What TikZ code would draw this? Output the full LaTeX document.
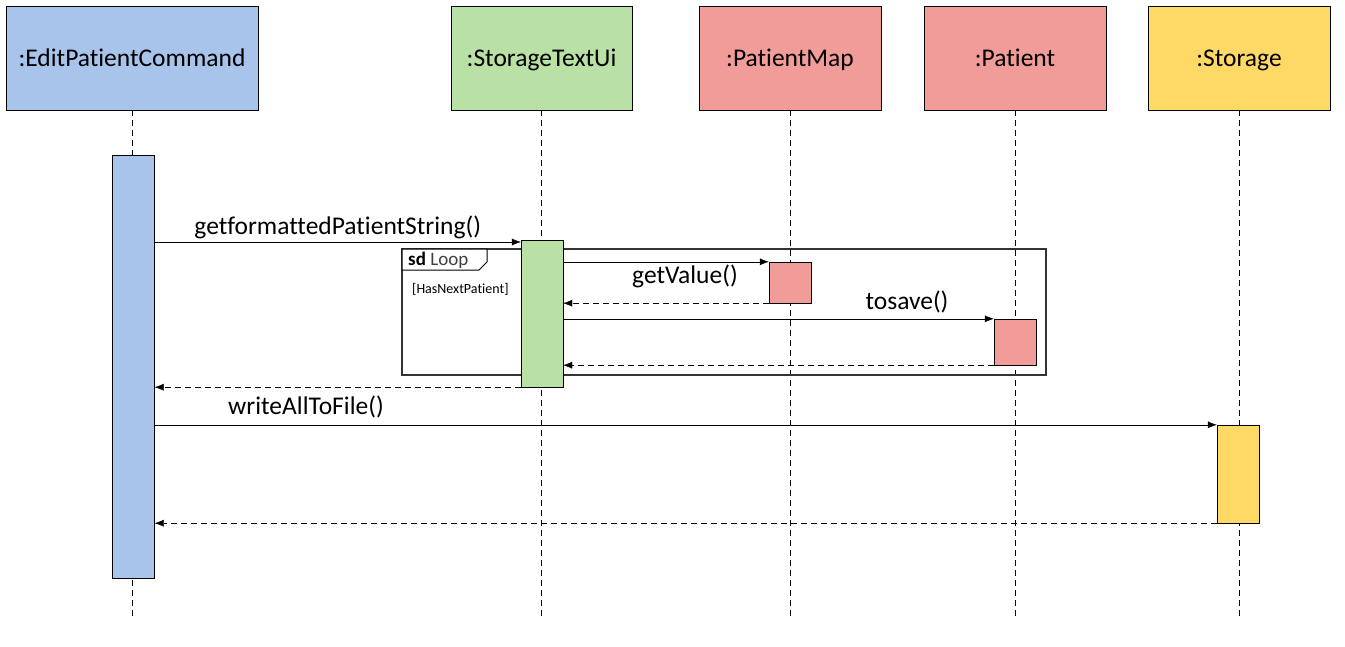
\documentclass[tikz,border=0pt]{standalone}
\usepackage{fontspec}
\setmainfont{Carlito}[Ligatures=NoCommon]
\usetikzlibrary{arrows.meta, positioning, calc}
\definecolor{cmdblue}{HTML}{A9C4EB}
\definecolor{uigreen}{HTML}{B9E0A5}
\definecolor{pred}{HTML}{F19C99}
\definecolor{styellow}{HTML}{FFD966}
\tikzset{%
	obj/.style={draw, rectangle, minimum height=104pt, inner sep=0pt,%
		text height=20pt, text depth=4pt, font=\fontsize{25.5}{30}\selectfont},
	act/.style={draw, rectangle, minimum width=42pt, inner sep=0pt},
	lifeline/.style={dash pattern=on 6pt off 4pt, thin},
	msg/.style={-{Latex[length=9pt,width=7pt]}, thin},
	ret/.style={-{Latex[length=9pt,width=7pt]}, dash pattern=on 6pt off 4pt, thin},
	msglabel/.style={font=\fontsize{25.5}{30}\selectfont, inner sep=1pt},
	frame/.style={draw=black!80, line width=1.6pt}
}

\begin{document}
\begin{tikzpicture}[x=1pt, y=-1pt]
	\useasboundingbox (0,0) rectangle (1345,646);

	% objects
	\node[obj, fill=cmdblue, minimum width=252pt]  (cmd) at (132,58)    {:EditPatientCommand};
	\node[obj, fill=uigreen, minimum width=181pt]  (ui)  at (541.5,58)  {:StorageTextUi};
	\node[obj, fill=pred, minimum width=182pt]     (pm)  at (790,58)    {:PatientMap};
	\node[obj, fill=pred, minimum width=182pt]     (pat) at (1015,58)   {:Patient};
	\node[obj, fill=styellow, minimum width=182pt] (st)  at (1239,58)   {:Storage};

	% lifelines
	\foreach \o in {cmd, ui, pm, pat, st}
		\draw[lifeline] (\o.south) -- (\o.south |- 0,620);

	% loop frame
	\draw[frame] (402,249) rectangle (1046,375);
	\draw[line width=1pt, fill=white] (402,249) -- (487,249) -- (487,262) -- (479,270) -- (402,270) -- cycle;
	\node[anchor=west, inner sep=0pt, font=\fontsize{19}{22}\selectfont] (looptag) at (408,260)
		{\textbf{sd} \textcolor{black!75}{Loop}};
	\node[anchor=west, inner sep=0pt, font=\fontsize{14}{16}\selectfont] (guard) at (412,289) {[HasNextPatient]};

	% activations
	\node[act, fill=cmdblue, minimum height=423pt]  (cmdact) at (133.5,366.5) {};
	\node[act, fill=uigreen, minimum height=147pt]  (uiact)  at (542,313.5)   {};
	\node[act, fill=pred, minimum height=41pt]      (pmact)  at (790,282.5)   {};
	\node[act, fill=pred, minimum height=46pt]      (patact) at (1015,342)    {};
	\node[act, fill=styellow, minimum height=98pt]  (stact)  at (1238,474)    {};

	% messages
	\draw[msg] (cmdact.east |- 0,242) -- node[msglabel, above=2pt]{getformattedPatientString()} (uiact.north west |- 0,242);
	\draw[msg] (uiact.east |- pmact.north) -- (pmact.north west);
	\node[msglabel] (getv) at (685,276) {getValue()};
	\draw[ret] (pmact.south west) -- (uiact.east |- pmact.south);
	\draw[msg] (uiact.east |- patact.north) -- (patact.north west);
	\node[msglabel] (tosave) at (907,302) {tosave()};
	\draw[ret] (patact.south west) -- (uiact.east |- patact.south);
	\draw[ret] (uiact.south west) -- (cmdact.east |- uiact.south);
	\draw[msg] (cmdact.east |- stact.north) -- (stact.north west);
	\node[msglabel] (writeall) at (306,407) {writeAllToFile()};
	\draw[ret] (stact.south west) -- (cmdact.east |- stact.south);

\end{tikzpicture}
\end{document}
